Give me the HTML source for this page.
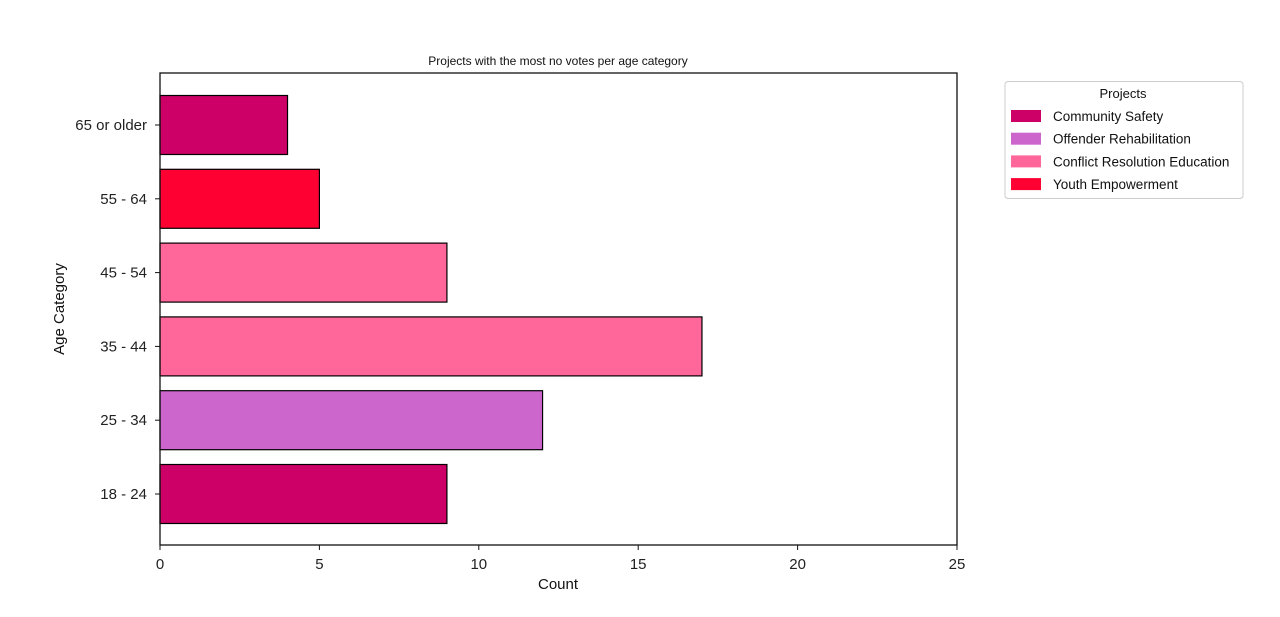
<!DOCTYPE html>
<html><head><meta charset="utf-8">
<style>
body{margin:0;background:#fff;}
svg text{font-family:"Liberation Sans","DejaVu Sans",sans-serif;}
</style></head>
<body>
<svg id="chart" width="1280" height="612" xmlns="http://www.w3.org/2000/svg">
<rect width="1280" height="612" fill="#fff"/>
<text x="558" y="65" text-anchor="middle" font-size="12" fill="#111">Projects with the most no votes per age category</text>
<g id="bars"></g>
<g id="xticks"></g>
<g id="yticks"></g>
<rect x="160" y="73" width="797" height="472" fill="none" stroke="#111" stroke-width="1.3"/>
<text x="558" y="589" text-anchor="middle" font-size="15" fill="#111">Count</text>
<text transform="translate(64,309) rotate(-90)" text-anchor="middle" font-size="15" fill="#111">Age Category</text>
<g>
<rect x="1005" y="81.5" width="238" height="117" rx="3" fill="#fff" stroke="#ccc"/>
<text x="1123" y="98" text-anchor="middle" font-size="13" fill="#111">Projects</text>
<g id="legend-items"></g>
</g>
</svg>
<script>
const categories=["18 - 24","25 - 34","35 - 44","45 - 54","55 - 64","65 or older"];
const values=[9,12,17,9,5,4];
const barProjects=["Community Safety","Offender Rehabilitation","Conflict Resolution Education","Conflict Resolution Education","Youth Empowerment","Community Safety"];
const projects=["Community Safety","Offender Rehabilitation","Conflict Resolution Education","Youth Empowerment"];
const colors=["#cc0066","#cc66cc","#ff6699","#ff0033"];
const xTicks=[0,5,10,15,20,25];
const NS="http://www.w3.org/2000/svg";
const X0=160,X1=957,XMAX=25;
const x=v=>X0+(v/XMAX)*(X1-X0);
const y=i=>494-i*73.8;
const bh=59;
function mk(t,a,p){const e=document.createElementNS(NS,t);for(const k in a)e.setAttribute(k,a[k]);p.appendChild(e);return e;}
const gb=document.getElementById('bars');
values.forEach((v,i)=>{
 const r=mk('rect',{x:x(0),y:y(i)-bh/2,width:x(v)-x(0),height:bh,fill:colors[projects.indexOf(barProjects[i])],stroke:'#000','stroke-width':1.2},gb);
 
 
});
const gx=document.getElementById('xticks');
xTicks.forEach(t=>{
 const l=mk('line',{x1:x(t),x2:x(t),y1:545,y2:550,stroke:'#111'},gx);
 
 
 const tx=mk('text',{x:x(t),y:569,'text-anchor':'middle','font-size':15,fill:'#222'},gx);
 tx.textContent=t;
 
 
});
const gy=document.getElementById('yticks');
categories.forEach((c,i)=>{
 const l=mk('line',{x1:155,x2:160,y1:y(i),y2:y(i),stroke:'#111'},gy);
 
 
 const tx=mk('text',{x:147,y:y(i)+5,'text-anchor':'end','font-size':15,fill:'#222'},gy);
 tx.textContent=c;
 
 
});
const gl=document.getElementById('legend-items');
projects.forEach((p,i)=>{
 const yy=116+i*22.7;
 const r=mk('rect',{x:1011,y:yy-6,width:30,height:12,fill:colors[i]},gl);
 
 
 const t=mk('text',{x:1053,y:yy+5,'font-size':13.5,fill:'#111'},gl);
 t.textContent=p;
 
 
});
</script>
</body></html>
